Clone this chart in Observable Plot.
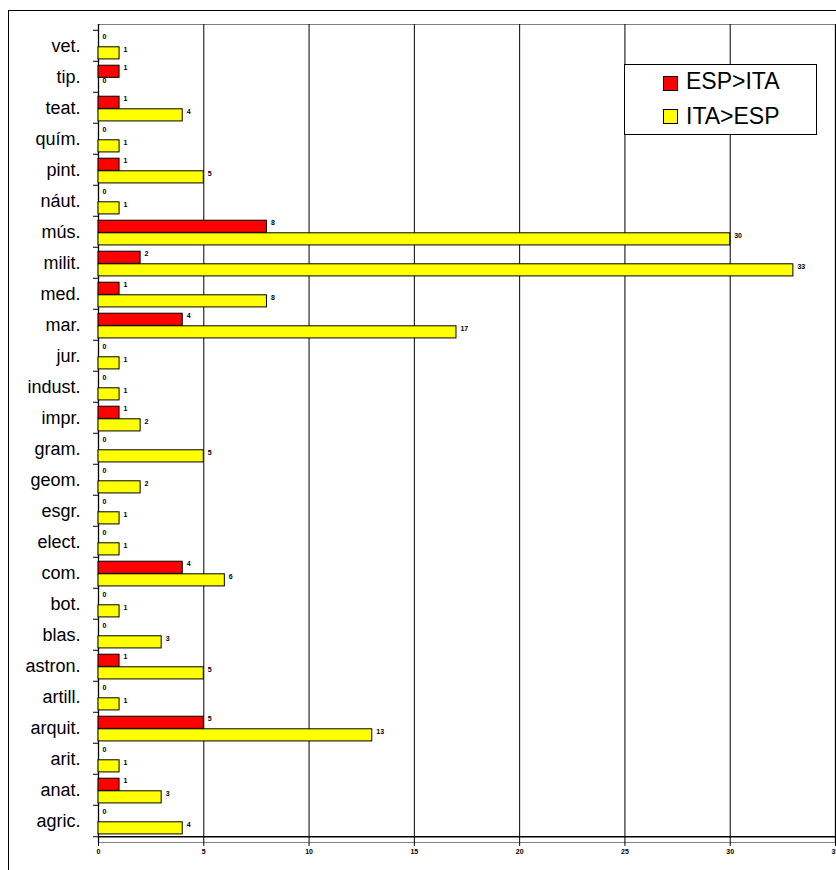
<!DOCTYPE html>
<html>
<head>
<meta charset="utf-8">
<script src="https://cdn.jsdelivr.net/npm/d3@7"></script>
<script src="https://cdn.jsdelivr.net/npm/@observablehq/plot@0.6"></script>
<style>
  html, body { margin: 0; padding: 0; background: #fff; }
  body { font-family: "Liberation Sans", Arial, sans-serif; }
  #wrap { position: relative; width: 836px; height: 870px; overflow: hidden; background: #fff; }
  #border { position: absolute; left: 8px; top: 10px; width: 900px; height: 900px; border: 1px solid #000; pointer-events: none; }
  #legend { position: absolute; left: 624px; top: 64px; width: 193px; height: 71px; border: 1px solid #000; background: #fff; box-sizing: border-box; }
  .sw { position: absolute; left: 38px; width: 15px; height: 15px; border: 1px solid #000; box-sizing: border-box; }
  .lt { position: absolute; left: 61px; font-size: 23px; line-height: 23px; color: #000; white-space: nowrap; }
</style>
</head>
<body>
<div id="wrap">
  <div id="chart"></div>
  <div id="border"></div>
  <div id="legend"></div>
</div>
<script>
const categories = ["vet.", "tip.", "teat.", "quím.", "pint.", "náut.", "mús.", "milit.", "med.", "mar.",
  "jur.", "indust.", "impr.", "gram.", "geom.", "esgr.", "elect.", "com.", "bot.", "blas.",
  "astron.", "artill.", "arquit.", "arit.", "anat.", "agric."];
const espIta = [0, 1, 1, 0, 1, 0, 8, 2, 1, 4, 0, 0, 1, 0, 0, 0, 0, 4, 0, 0, 1, 0, 5, 0, 1, 0];
const itaEsp = [1, 0, 4, 1, 5, 1, 30, 33, 8, 17, 1, 1, 2, 5, 2, 1, 1, 6, 1, 3, 5, 1, 13, 1, 3, 4];
const seriesNames = ["ESP>ITA", "ITA>ESP"];
const seriesColors = ["#ff0000", "#ffff00"];
const xTicks = [0, 5, 10, 15, 20, 25, 30, 35];

const rows = categories.map((c, i) => ({cat: c, esp: espIta[i], ita: itaEsp[i]}));

const W = 836, H = 870, mt = 24, mb = 28, ml = 98, mr = 1;
const step = (H - mt - mb) / categories.length;
const barH = step * 0.4;
const padTop = step * 0.134;
const redTop = padTop, redBottom = step - padTop - barH;
const yelTop = padTop + barH, yelBottom = step - padTop - 2 * barH;
const font = "Liberation Sans, Arial, sans-serif";

const plot = Plot.plot({
  width: W, height: H,
  marginTop: mt, marginBottom: mb, marginLeft: ml, marginRight: mr,
  style: {fontFamily: font, background: "transparent", overflow: "visible"},
  x: {domain: [0, 35], axis: null},
  y: {domain: categories, padding: 0, axis: null},
  marks: [
    Plot.frame({stroke: "#808080"}),
    Plot.ruleX(xTicks.filter(t => t > 0 && t < 35), {stroke: "#000", strokeWidth: 1}),
    Plot.ruleX([0, 35], {stroke: "#000", strokeWidth: 1.3}),
    Plot.ruleY([categories[categories.length - 1]], {dy: step / 2, stroke: "#000", strokeWidth: 1.3}),
    // x tick marks
    Plot.ruleX(xTicks, {stroke: "#000", insetTop: H - mt - mb, insetBottom: -4}),
    // y category boundary ticks
    Plot.ruleY(categories, {y: d => d, x1: 0, x2: 0, insetLeft: -5, dy: -step / 2, stroke: "#000"}),
    Plot.ruleY([categories[categories.length - 1]], {y: d => d, x1: 0, x2: 0, insetLeft: -5, dy: step / 2, stroke: "#000"}),
    // bars
    Plot.barX(rows, {x: "esp", y: "cat", fill: seriesColors[0], stroke: "#000", strokeWidth: 1,
      insetTop: redTop, insetBottom: redBottom}),
    Plot.barX(rows, {x: "ita", y: "cat", fill: seriesColors[1], stroke: "#000", strokeWidth: 1,
      insetTop: yelTop, insetBottom: yelBottom}),
    // value labels
    Plot.text(rows, {x: "esp", y: "cat", text: d => String(d.esp), textAnchor: "start", dx: 4,
      dy: -step / 2 + padTop + 2.5, fontSize: 7, fontWeight: "bold", fill: "#000"}),
    Plot.text(rows, {x: "ita", y: "cat", text: d => String(d.ita), textAnchor: "start", dx: 4,
      dy: -step / 2 + padTop + barH + 2.5, fontSize: 7, fontWeight: "bold", fill: "#000"}),
    // category labels
    Plot.text(categories, {y: d => d, frameAnchor: "left", textAnchor: "end", dx: -18,
      fontSize: 18, fill: "#000"}),
    // x tick labels
    Plot.text(xTicks, {x: d => d, frameAnchor: "bottom", dy: 11, fontSize: 7, fontWeight: "bold", fill: "#000"})
  ]
});
document.getElementById("chart").appendChild(plot);

const legend = document.getElementById("legend");
const swTops = [11, 44];
const textTops = [5, 40];
seriesNames.forEach((n, i) => {
  const sw = document.createElement("div");
  sw.className = "sw";
  sw.style.top = swTops[i] + "px";
  sw.style.background = seriesColors[i];
  const t = document.createElement("div");
  t.className = "lt";
  t.style.top = textTops[i] + "px";
  t.textContent = n;
  legend.appendChild(sw);
  legend.appendChild(t);
});
</script>
</body>
</html>
